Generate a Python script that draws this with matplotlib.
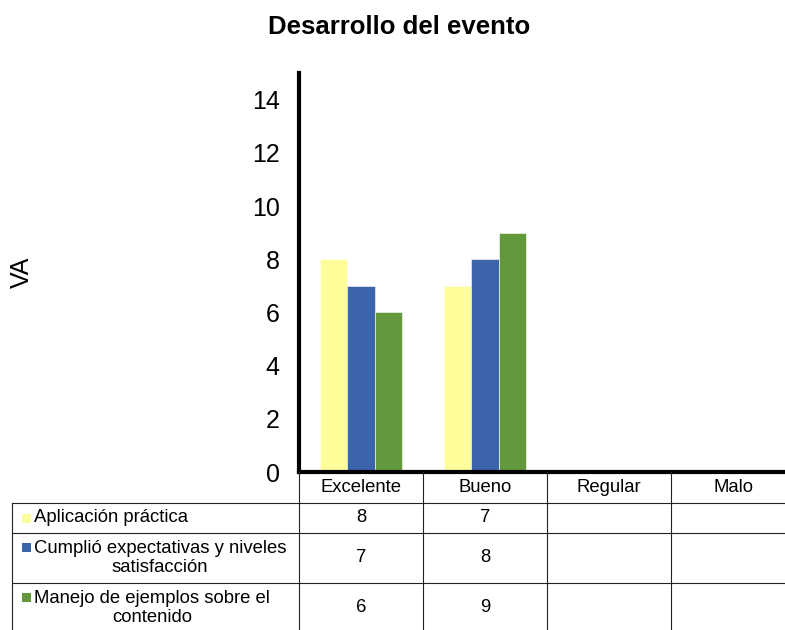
import matplotlib.pyplot as plt
from matplotlib.patches import Rectangle
import numpy as np

plt.rcParams['font.family'] = ['Liberation Sans', 'DejaVu Sans']

# datos
categorias = ["Excelente", "Bueno", "Regular", "Malo"]
series = ["Aplicación práctica",
          "Cumplió expectativas y niveles\nsatisfacción",
          "Manejo de ejemplos sobre el\ncontenido"]
aplicacion = [8, 7, None, None]
cumplio = [7, 8, None, None]
manejo = [6, 9, None, None]
valores = [aplicacion, cumplio, manejo]
colores = ["#FDFD99", "#3B64AB", "#62993D"]


def main():
    W, H = 785, 630
    fig = plt.figure(figsize=(W / 100, H / 100), dpi=100)

    # axes del grafico (en pixeles de la figura)
    left, right, top, bottom = 299, 785, 73, 472
    ax = fig.add_axes([left / W, (H - bottom) / H, (right - left) / W, (bottom - top) / H])
    cat_px = 124.0  # ancho de una categoria
    x_max = -0.5 + (right - left) / cat_px
    ax.set_xlim(-0.5, x_max)
    ax.set_ylim(0, 15)

    x = np.arange(len(categorias))
    w = 0.222
    for i, (vals, col) in enumerate(zip(valores, colores)):
        h = [v if v is not None else 0 for v in vals]
        ax.bar(x + (i - 1) * w, h, width=w, color=col, edgecolor="white", linewidth=0.4)

    ax.set_yticks(np.arange(0, 15, 2))
    ax.tick_params(axis="y", length=0, pad=14, labelsize=18)
    ax.set_xticks([])
    for s in ["top", "right"]:
        ax.spines[s].set_visible(False)
    ax.spines["left"].set_linewidth(3)
    ax.spines["bottom"].set_linewidth(3)
    ax.set_ylabel("VA", fontsize=18)
    ax.yaxis.set_label_coords(-(left - 34) / (right - left), 0.5)

    fig.text(0.508, 1 - 27 / H, "Desarrollo del evento", ha="center", va="center",
             fontsize=18.5, fontweight="bold")

    # tabla de datos, alineada con las categorias del eje
    tax = fig.add_axes([0, 0, 1, (H - bottom) / H])
    px = (x_max + 0.5) / (right - left)
    tax.set_xlim(-0.5 - left * px, x_max)
    tax.set_ylim(H - bottom, 0)
    tax.axis("off")

    lc = "#222222"
    lw = 0.8
    fs = 13.3
    filas = [0, 31, 61, 111, 161]
    x0 = -0.5 - (left - 12) * px
    bordes = [-0.5 + k for k in range(len(categorias) + 1)]

    # lineas horizontales
    for y in filas[1:]:
        tax.plot([x0, x_max], [y, y], color=lc, lw=lw, clip_on=False)
    # lineas verticales
    tax.plot([x0, x0], [filas[1], filas[-1]], color=lc, lw=lw)
    for b in bordes:
        tax.plot([b, b], [0, filas[-1]], color=lc, lw=lw)

    # encabezados
    for i, c in enumerate(categorias):
        tax.text(i, 16, c, ha="center", va="center", fontsize=fs)

    # filas
    for r, (nombre, vals, col) in enumerate(zip(series, valores, colores)):
        yc = (filas[r + 1] + filas[r + 2]) / 2
        n_lineas = nombre.count("\n") + 1
        y_first = yc - (n_lineas - 1) * 11
        tax.add_patch(Rectangle((x0 + 10 * px, y_first - 4.5), 9 * px, 9,
                                facecolor=col, edgecolor="none"))
        tax.text(x0 + 22 * px, yc, nombre, ha="left", va="center", fontsize=fs,
                 multialignment="center", linespacing=1.1)
        for i, v in enumerate(vals):
            if v is not None:
                tax.text(i, yc, str(v), ha="center", va="center", fontsize=fs)

    fig.savefig("out.png", dpi=100)


if __name__ == "__main__":
    main()
